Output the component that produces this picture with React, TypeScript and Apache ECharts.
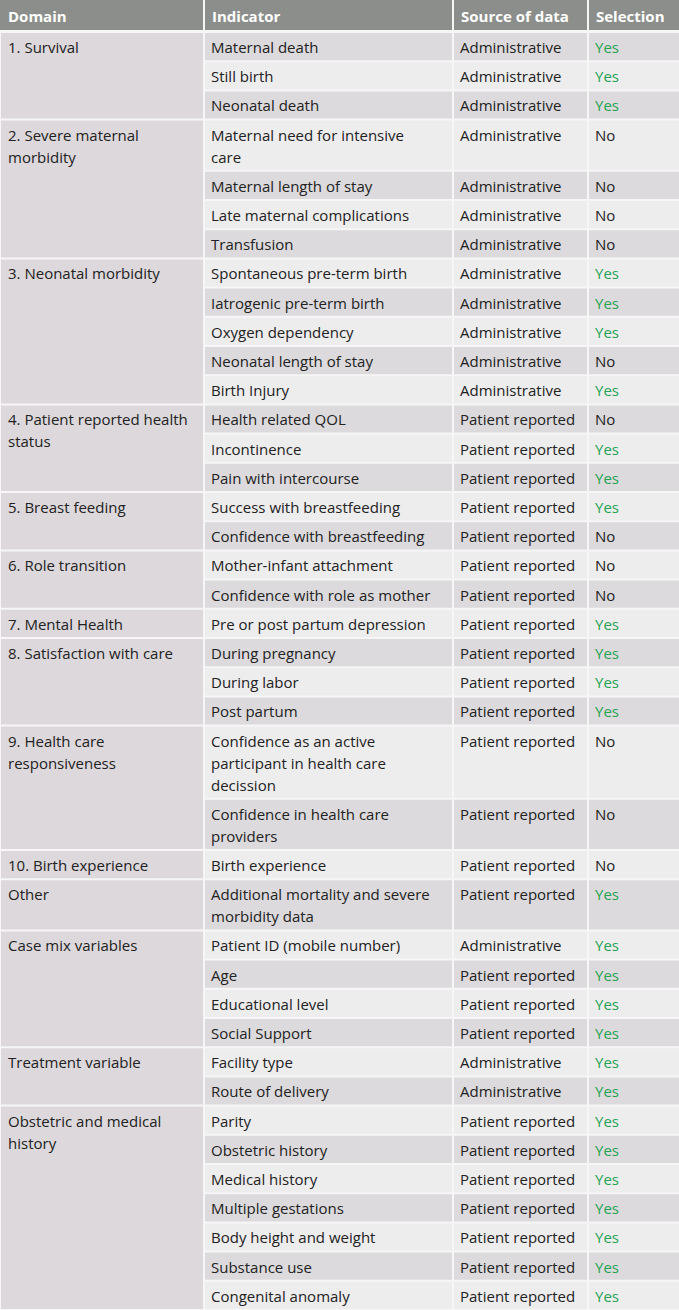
import React, { useEffect, useRef } from "react";
import * as echarts from "echarts";

const headers = ["Domain", "Indicator", "Source of data", "Selection"];

const indicators = [
  "Maternal death", "Still birth", "Neonatal death",
  "Maternal need for intensive\ncare", "Maternal length of stay", "Late maternal complications", "Transfusion",
  "Spontaneous pre-term birth", "Iatrogenic pre-term birth", "Oxygen dependency", "Neonatal length of stay", "Birth Injury",
  "Health related QOL", "Incontinence", "Pain with intercourse",
  "Success with breastfeeding", "Confidence with breastfeeding",
  "Mother-infant attachment", "Confidence with role as mother",
  "Pre or post partum depression",
  "During pregnancy", "During labor", "Post partum",
  "Confidence as an active\nparticipant in health care\ndecission", "Confidence in health care\nproviders",
  "Birth experience",
  "Additional mortality and severe\nmorbidity data",
  "Patient ID (mobile number)", "Age", "Educational level", "Social Support",
  "Facility type", "Route of delivery",
  "Parity", "Obstetric history", "Medical history", "Multiple gestations", "Body height and weight", "Substance use", "Congenital anomaly",
];

const A = "Administrative";
const P = "Patient reported";
const sources = [
  A, A, A,
  A, A, A, A,
  A, A, A, A, A,
  P, P, P,
  P, P,
  P, P,
  P,
  P, P, P,
  P, P,
  P,
  P,
  A, P, P, P,
  A, A,
  P, P, P, P, P, P, P,
];

const selections = [
  "Yes", "Yes", "Yes",
  "No", "No", "No", "No",
  "Yes", "Yes", "Yes", "No", "Yes",
  "No", "Yes", "Yes",
  "Yes", "No",
  "No", "No",
  "Yes",
  "Yes", "Yes", "Yes",
  "No", "No",
  "No",
  "Yes",
  "Yes", "Yes", "Yes", "Yes",
  "Yes", "Yes",
  "Yes", "Yes", "Yes", "Yes", "Yes", "Yes", "Yes",
];

const domains = [
  "1. Survival", "2. Severe maternal\nmorbidity", "3. Neonatal morbidity",
  "4. Patient reported health\nstatus", "5. Breast feeding", "6. Role transition",
  "7. Mental Health", "8. Satisfaction with care", "9. Health care\nresponsiveness",
  "10. Birth experience", "Other", "Case mix variables", "Treatment variable",
  "Obstetric and medical\nhistory",
];
const domainSpans = [3, 4, 5, 3, 2, 2, 1, 3, 2, 1, 1, 4, 2, 7];

export default function App() {
  const ref = useRef<HTMLDivElement>(null);
  useEffect(() => {
    document.body.style.margin = "0";
    const chart = echarts.init(ref.current!, undefined, { renderer: "svg" });
    const W = 679;
    const colX = [0, 204, 453, 588, 679];
    const headerH = 32;
    const rowH = 29.2;
    const lineH = 22;
    const font = "'Open Sans', Lato, sans-serif";
    const fontSize = 15;
    const txtColor = "#222222";
    const green = "#24a452";

    const heights = indicators.map((s) => rowH + lineH * (s.split("\n").length - 1));
    const tops: number[] = [];
    let y = headerH;
    heights.forEach((h) => { tops.push(y); y += h; });
    const total = y;

    const els: any[] = [];
    els.push({ type: "rect", shape: { x: 0, y: 0, width: W, height: total }, style: { fill: "#f6f6f6" } });
    headers.forEach((h, i) => {
      els.push({ type: "rect", shape: { x: colX[i] + (i ? 1 : 0), y: 0, width: colX[i + 1] - colX[i] - (i ? 1 : 0) - (i < 3 ? 1 : 0), height: headerH - 2 }, style: { fill: "#8c8e8b" } });
      els.push({ type: "text", x: colX[i] + 8, y: 16, style: { text: h, fill: "#ffffff", font: `bold ${fontSize}px ${font}`, verticalAlign: "middle" } });
    });
    indicators.forEach((ind, r) => {
      const top = tops[r];
      const h = heights[r];
      const fill = r % 2 === 0 ? "#dcdadc" : "#eeedee";
      for (let c = 1; c < 4; c++) {
        els.push({ type: "rect", shape: { x: colX[c] + 1, y: top + 1, width: colX[c + 1] - colX[c] - (c < 3 ? 2 : 1), height: h - 2 }, style: { fill } });
      }
      const cy = top + 15;
      els.push({ type: "text", x: colX[1] + 7, y: cy - lineH / 2, style: { text: ind, fill: txtColor, font: `${fontSize}px ${font}`, lineHeight: lineH, verticalAlign: "top" } });
      els.push({ type: "text", x: colX[2] + 7, y: cy, style: { text: sources[r], fill: txtColor, font: `${fontSize}px ${font}`, verticalAlign: "middle" } });
      els.push({ type: "text", x: colX[3] + 7, y: cy, style: { text: selections[r], fill: selections[r] === "Yes" ? green : txtColor, font: `${fontSize}px ${font}`, verticalAlign: "middle" } });
    });
    let ri = 0;
    domains.forEach((d, i) => {
      const top = tops[ri];
      const end = ri + domainSpans[i];
      const bottom = end < tops.length ? tops[end] : total;
      els.push({ type: "rect", shape: { x: 1, y: top + 1, width: colX[1] - 2, height: bottom - top - 2 }, style: { fill: "#dcd8db" } });
      els.push({ type: "text", x: 8, y: top + 15 - lineH / 2, style: { text: d, fill: txtColor, font: `${fontSize}px ${font}`, lineHeight: lineH, verticalAlign: "top" } });
      ri = end;
    });

    chart.setOption({ animation: false, graphic: { elements: els } });
    return () => chart.dispose();
  }, []);
  return <div ref={ref} style={{ width: 679, height: 1310 }} />;
}
